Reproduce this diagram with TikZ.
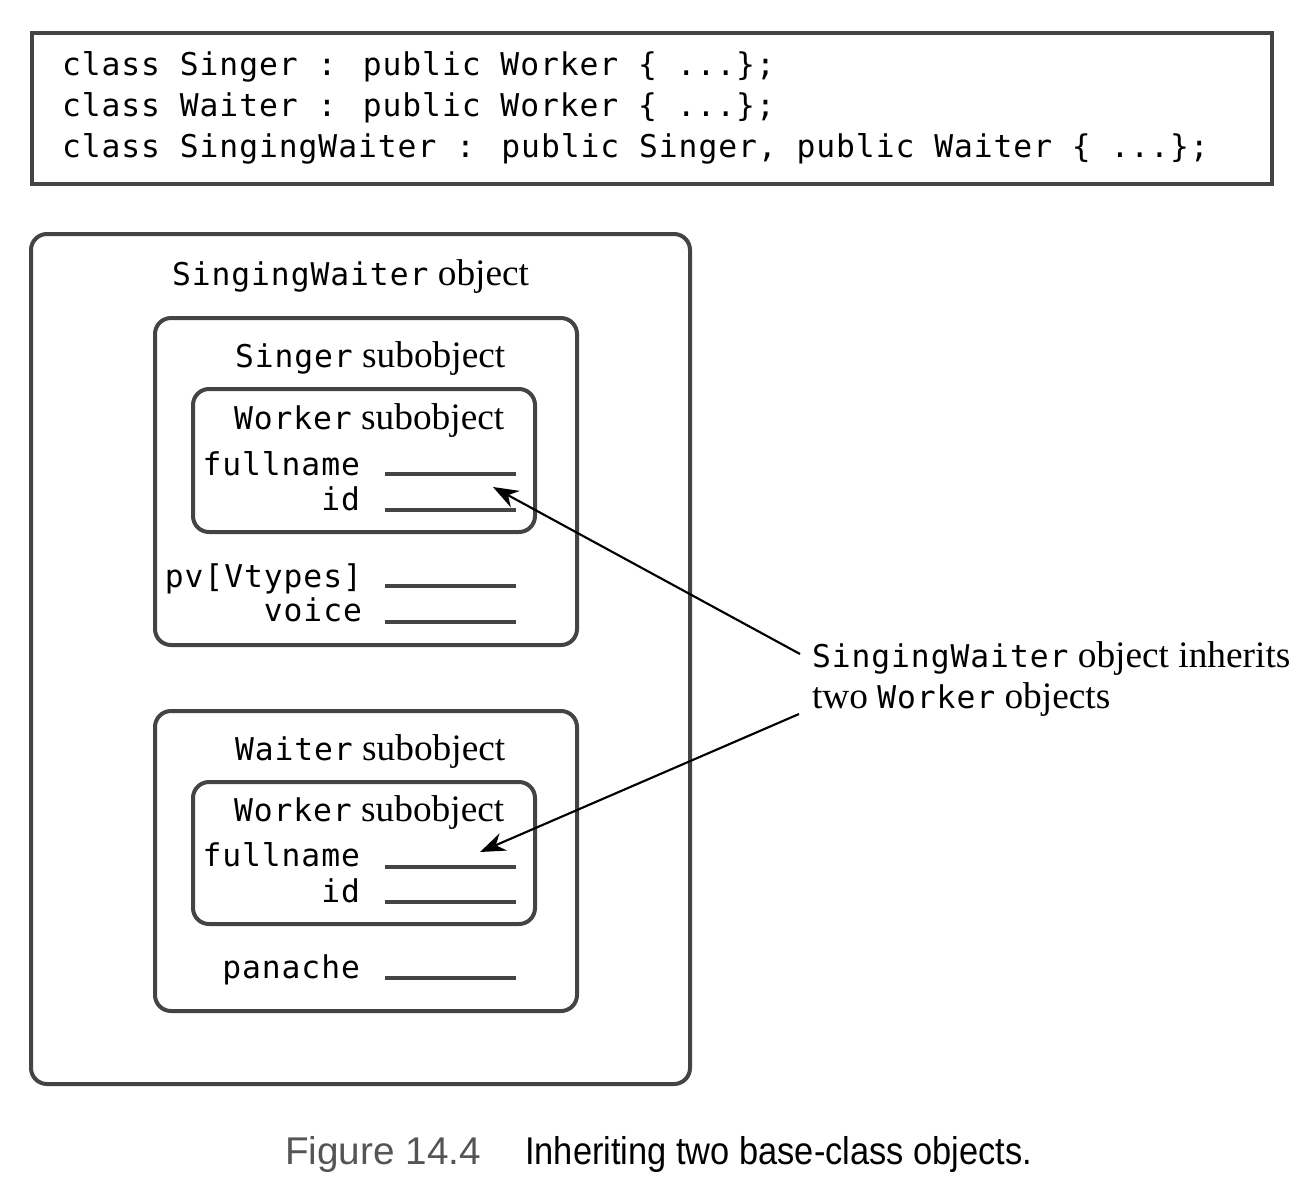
\documentclass[tikz,border=0pt]{standalone}
\usepackage{fontspec}
\setmainfont{Liberation Serif}
\newfontfamily\monofam[LetterSpace=3]{DejaVu Sans Mono}
\newfontfamily\capsans{Liberation Sans}
\newfontfamily\capcond[FakeStretch=0.89]{Liberation Sans}
\newcommand{\mtt}[1]{{\monofam\fontsize{23.5pt}{28pt}\selectfont #1}}
\usetikzlibrary{arrows.meta}
\definecolor{boxgray}{HTML}{444444}
\definecolor{capgray}{HTML}{555555}
\tikzset{
  objbox/.style={draw=boxgray, line width=3pt, rounded corners=12pt},
  codebox/.style={draw=boxgray, line width=3pt},
  txt/.style={inner sep=0pt, outer sep=0pt, font=\fontsize{28pt}{33pt}\selectfont},
  field/.style={draw=boxgray, line width=3pt},
  callout/.style={draw=black, line width=1.6pt, -{Stealth[length=19pt, width=14pt]}},
}
\begin{document}
\begin{tikzpicture}[x=0.75pt, y=-0.75pt]
\useasboundingbox (0,0) rectangle (1314,1190);

% code box
\draw[codebox] (32,33) rectangle (1272,184);
\node[txt, anchor=base west] (c1) at (62,75) {\mtt{class Singer : public Worker \{ ...\};}};
\node[txt, anchor=base west] (c2) at (62,116) {\mtt{class Waiter : public Worker \{ ...\};}};
\node[txt, anchor=base west] (c3) at (62,157) {\mtt{class SingingWaiter : public Singer, public Waiter \{ ...\};}};

% outer object
\draw[objbox] (31,234) rectangle (690,1084);
\node[txt, anchor=base west] (swt) at (172,285) {\mtt{SingingWaiter} object};

% Singer subobject
\draw[objbox] (155,318) rectangle (577,645);
\node[txt, anchor=base west] (sgt) at (235,367) {\mtt{Singer} subobject};
\draw[objbox] (193,389) rectangle (535,532);
\node[txt, anchor=base west] (w1t) at (234,429) {\mtt{Worker} subobject};
\node[txt, anchor=base east] (f1) at (360,475) {\mtt{fullname}};
\node[txt, anchor=base east] (i1) at (360,510) {\mtt{id}};
\node[txt, anchor=base east] (pv) at (362,587) {\mtt{pv[Vtypes]}};
\node[txt, anchor=base east] (vo) at (362,621) {\mtt{voice}};
\coordinate (f1a) at (385,474); \coordinate (f1b) at (516,474);
\coordinate (i1a) at (385,510); \coordinate (i1b) at (516,510);
\coordinate (pva) at (385,586); \coordinate (pvb) at (516,586);
\coordinate (voa) at (385,622); \coordinate (vob) at (516,622);
\draw[field] (f1a) -- (f1b);
\draw[field] (i1a) -- (i1b);
\draw[field] (pva) -- (pvb);
\draw[field] (voa) -- (vob);

% Waiter subobject
\draw[objbox] (155,711) rectangle (577,1011);
\node[txt, anchor=base west] (wtt) at (235,760) {\mtt{Waiter} subobject};
\draw[objbox] (193,782) rectangle (535,924);
\node[txt, anchor=base west] (w2t) at (234,821) {\mtt{Worker} subobject};
\node[txt, anchor=base east] (f2) at (360,866) {\mtt{fullname}};
\node[txt, anchor=base east] (i2) at (360,902) {\mtt{id}};
\node[txt, anchor=base east] (pa) at (360,978) {\mtt{panache}};
\coordinate (f2a) at (385,867); \coordinate (f2b) at (516,867);
\coordinate (i2a) at (385,902); \coordinate (i2b) at (516,902);
\coordinate (paa) at (385,978); \coordinate (pab) at (516,978);
\draw[field] (f2a) -- (f2b);
\draw[field] (i2a) -- (i2b);
\draw[field] (paa) -- (pab);

% annotation
\node[txt, anchor=base west] (n1) at (812,667) {\mtt{SingingWaiter} object inherits};
\node[txt, anchor=base west] (n2) at (812,708) {two \mtt{Worker} objects};
\coordinate (a1s) at (800,654); \coordinate (a1t) at (493,487);
\coordinate (a2s) at (799,714); \coordinate (a2t) at (480,852);
\draw[callout] (a1s) -- (a1t);
\draw[callout] (a2s) -- (a2t);

% caption
\node[inner sep=0pt, anchor=base west, text=capgray, font=\capsans\fontsize{29pt}{34pt}\selectfont] (fig) at (285,1164) {Figure 14.4};
\node[inner sep=0pt, anchor=base west, font=\capcond\fontsize{29pt}{34pt}\selectfont] (cap) at (525,1164) {Inheriting two base-class objects.};
\end{tikzpicture}
\end{document}
